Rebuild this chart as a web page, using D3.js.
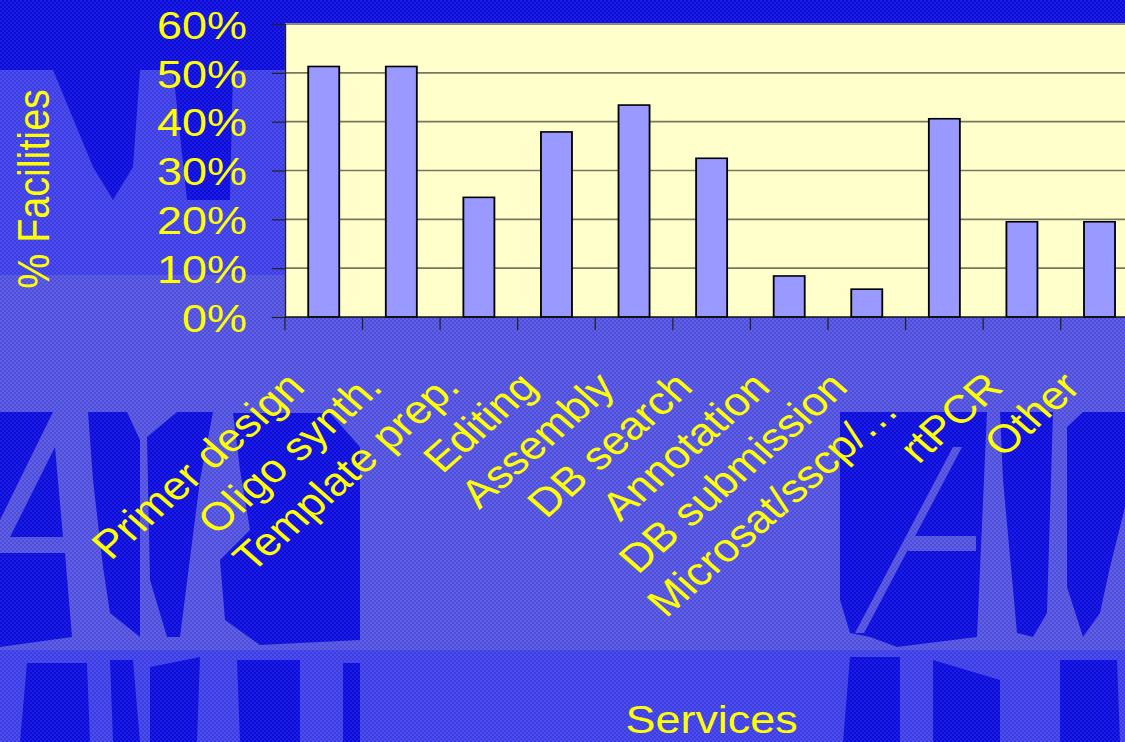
<!DOCTYPE html>
<html>
<head>
<meta charset="utf-8">
<script src="https://cdn.jsdelivr.net/npm/d3@7"></script>
<style>
  html, body { margin: 0; padding: 0; background: #5454e0; }
  svg { display: block; }
  text { font-family: "Liberation Sans", Arial, sans-serif; fill: #ffff00; }
</style>
</head>
<body>
<svg id="chart" width="1125" height="742"></svg>
<script>
// ---- data ----
const categories = ["Primer design", "Oligo synth.", "Template prep.", "Editing", "Assembly",
  "DB search", "Annotation", "DB submission", "Microsat/sscp/\u2026", "rtPCR", "Other"];
const categoryLabels = ["Primer design", "Oligo synth.", "Template prep.", "Editing", "Assembly",
  "DB search", "Annotation", "DB submission", "Microsat/sscp/\u2026\u00a0\u00a0\u00a0", "rtPCR", "Other"];
const values = [51.3, 51.3, 24.5, 37.9, 43.4, 32.5, 8.4, 5.7, 40.6, 19.5, 19.5];
const yTickValues = [0, 10, 20, 30, 40, 50, 60];
const yTickLabels = ["0%", "10%", "20%", "30%", "40%", "50%", "60%"];
const yTitle = "% Facilities";
const xTitle = "Services";

(function () {
const W = 1125, H = 742;
const SX = 1.1375; // horizontal stretch of the original slide
const FS = 39.5;
const svg = d3.select("#chart");
const defs = svg.append("defs");

function checker(id, c1, c2) {
  const p = defs.append("pattern").attr("id", id).attr("width", 4).attr("height", 4)
    .attr("patternUnits", "userSpaceOnUse");
  p.append("rect").attr("width", 4).attr("height", 4).attr("fill", c1);
  p.append("rect").attr("width", 2).attr("height", 2).attr("fill", c2);
  p.append("rect").attr("x", 2).attr("y", 2).attr("width", 2).attr("height", 2).attr("fill", c2);
}
checker("pLight", "#4c4ce4", "#6262da");
checker("pDark", "#0c0cd8", "#1e1ee2");
checker("pMed", "#3c3ce6", "#4e4ee8");

// ---- background decoration ----
const bg = svg.append("g");
bg.append("rect").attr("width", W).attr("height", H).attr("fill", "url(#pLight)");
bg.append("rect").attr("x", 0).attr("y", 650).attr("width", W).attr("height", 92).attr("fill", "url(#pMed)");
bg.append("rect").attr("x", 0).attr("y", 70).attr("width", 285).attr("height", 205).attr("fill", "url(#pMed)");
bg.append("rect").attr("x", 0).attr("y", 0).attr("width", W).attr("height", 24).attr("fill", "url(#pDark)");
bg.append("rect").attr("x", 0).attr("y", 0).attr("width", 285).attr("height", 70).attr("fill", "url(#pDark)");

const darkShapes = [
  [[53,70],[140,70],[133,167],[113,200],[93,167]],
  [[173,70],[233,70],[230,200],[187,200]],
  [[0,412],[53,412],[0,520]],
  [[10,537],[63,537],[55,447]],
  [[0,553],[65,553],[72,637],[0,647]],
  [[88,412],[127,412],[140,440],[140,637],[110,613],[103,567],[93,480]],
  [[147,437],[177,412],[213,412],[200,480],[180,637],[167,637],[150,580]],
  [[233,413],[330,413],[360,447],[360,640],[260,645],[225,620],[220,560],[250,530],[240,470]],
  [[840,412],[987,412],[977,637],[897,647],[870,637],[850,633],[840,600]],
  [[1000,412],[1053,412],[1047,613],[1033,637],[1017,633],[1003,480]],
  [[1067,427],[1083,412],[1125,412],[1125,507],[1110,567],[1100,613],[1083,637],[1067,587]],
  [[27,663],[87,663],[90,742],[20,742]],
  [[110,660],[133,660],[140,742],[113,742]],
  [[150,667],[200,657],[197,742],[150,742]],
  [[237,660],[300,660],[300,742],[240,742]],
  [[343,663],[360,663],[360,742],[343,742]],
  [[850,657],[900,657],[900,742],[843,742]],
  [[933,660],[1000,680],[1000,742],[933,742]],
  [[1060,660],[1117,660],[1120,742],[1060,742]]
];
bg.selectAll("path.dark").data(darkShapes).join("path")
  .attr("class", "dark")
  .attr("d", d => "M" + d.map(p => p.join(",")).join("L") + "Z")
  .attr("fill", "url(#pDark)");
bg.append("path").attr("d", "M953,447L962,447L864,633L855,633Z").attr("fill", "url(#pLight)");
bg.append("rect").attr("x", 908).attr("y", 536).attr("width", 68).attr("height", 15).attr("fill", "url(#pLight)");

// ---- chart (drawn in unstretched coordinates, then stretched) ----
const g = svg.append("g").attr("transform", `scale(${SX},1)`);

const plotLeft = 250.5, plotTop = 24, plotBottom = 317;
const step = 68.2;
const plotRight = plotLeft + step * categories.length;

const x = d3.scaleBand().domain(categories).range([plotLeft, plotRight]).padding(0);
const y = d3.scaleLinear().domain([0, 60]).range([plotBottom, plotTop]);

g.append("rect").attr("x", plotLeft).attr("y", plotTop)
  .attr("width", plotRight - plotLeft).attr("height", plotBottom - plotTop)
  .attr("fill", "#ffffcc");

g.append("g").selectAll("line").data(yTickValues.filter(v => v > 0 && v < 60)).join("line")
  .attr("x1", plotLeft).attr("x2", plotRight)
  .attr("y1", d => y(d)).attr("y2", d => y(d))
  .attr("stroke", "#77775f").attr("stroke-width", 1.6);
g.append("line").attr("x1", plotLeft).attr("x2", plotRight).attr("y1", y(60)).attr("y2", y(60))
  .attr("stroke", "#8a8a86").attr("stroke-width", 1.8);

g.append("g").selectAll("rect").data(categories).join("rect")
  .attr("x", d => x(d) + x.bandwidth() * 0.3)
  .attr("width", x.bandwidth() * 0.4)
  .attr("y", (d, i) => y(values[i]))
  .attr("height", (d, i) => y(0) - y(values[i]))
  .attr("fill", "#9999ff").attr("stroke", "#000").attr("stroke-width", 1.6);

const yAxis = d3.axisLeft(y).tickValues(yTickValues).tickSize(11.5)
  .tickFormat((d, i) => yTickLabels[i]).tickPadding(22);
const ya = g.append("g").attr("transform", `translate(${plotLeft},0)`).call(yAxis);
ya.select(".domain").attr("stroke", "#222").attr("stroke-width", 1.2);
ya.selectAll(".tick line").attr("stroke", "#222").attr("stroke-width", 1.2);
ya.selectAll(".tick text").attr("font-size", FS).attr("fill", "#ffff00")
  .attr("font-family", "'Liberation Sans', Arial, sans-serif").attr("dy", "0.36em");

g.append("line").attr("x1", plotLeft).attr("x2", plotRight).attr("y1", plotBottom).attr("y2", plotBottom)
  .attr("stroke", "#111").attr("stroke-width", 1.4);
g.append("g").selectAll("line").data(categories).join("line")
  .attr("x1", d => x(d)).attr("x2", d => x(d))
  .attr("y1", plotBottom).attr("y2", plotBottom + 13)
  .attr("stroke", "#222").attr("stroke-width", 1.1);

g.append("g").selectAll("text").data(categories).join("text")
  .attr("transform", d => `translate(${x(d) + x.bandwidth() / 2 - 15},389) rotate(-45)`)
  .attr("text-anchor", "end")
  .attr("font-size", FS)
  .style("white-space", "pre")
  .text((d, i) => categoryLabels[i]);

g.append("text")
  .attr("transform", `translate(43,189) rotate(-90)`)
  .attr("text-anchor", "middle").attr("font-size", FS)
  .text(yTitle);
g.append("text")
  .attr("x", (plotLeft + plotRight) / 2).attr("y", 733)
  .attr("text-anchor", "middle").attr("font-size", FS)
  .text(xTitle);
})();
</script>
</body>
</html>
